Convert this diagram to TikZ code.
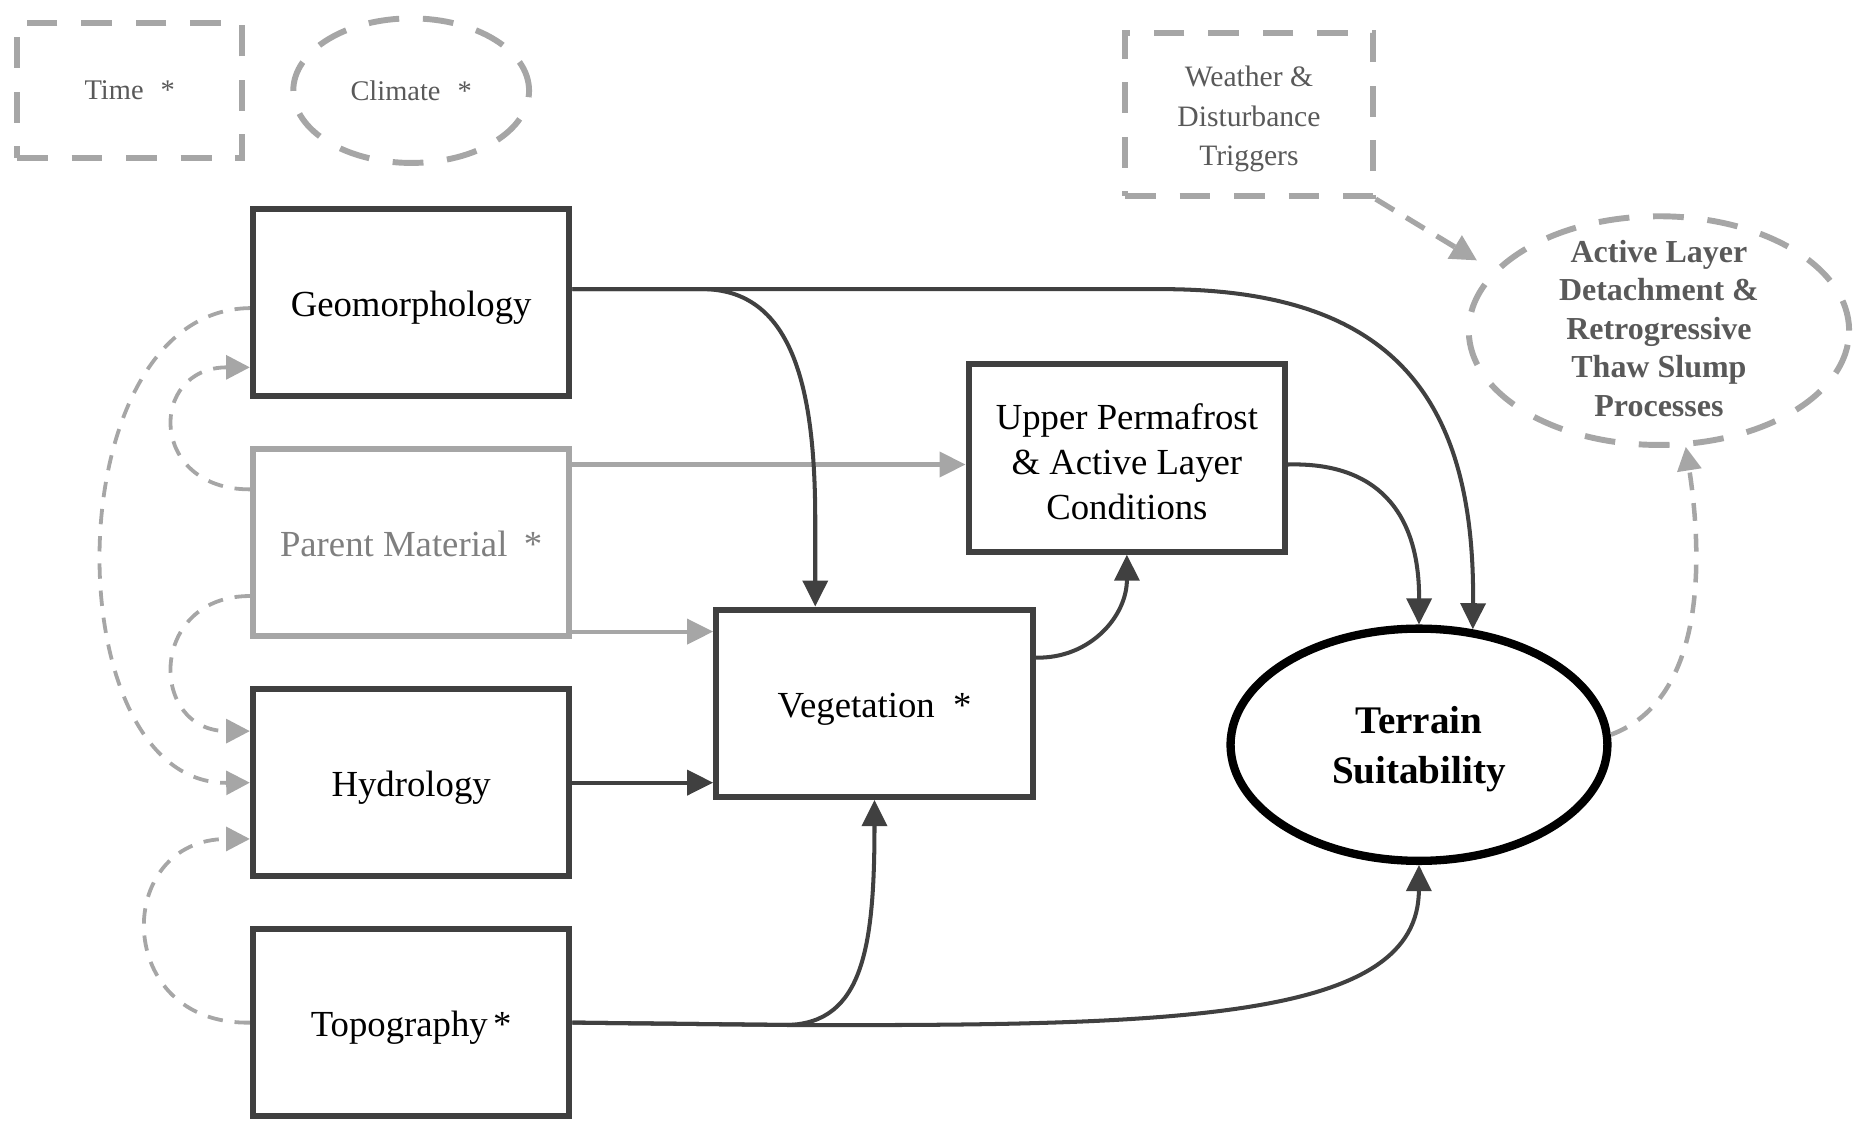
\documentclass[tikz,border=0pt]{standalone}
\usepackage{fontspec}
\setmainfont{Liberation Serif}
\usetikzlibrary{arrows.meta,shapes.geometric}
\definecolor{linedark}{HTML}{404040}
\definecolor{linelight}{HTML}{A6A6A6}
\definecolor{textgray}{HTML}{595959}
\definecolor{textlight}{HTML}{7F7F7F}

\begin{document}
\begin{tikzpicture}[x=0.5pt,y=-0.5pt,
  factor/.style={draw=linedark,line width=2.6pt,minimum width=133.5pt,minimum height=79pt,
    inner sep=0pt,align=center,font=\fontsize{15.5}{19}\selectfont,
    text height=13pt,text depth=1pt},
  factorlight/.style={factor,draw=linelight,text=textlight},
  boxtext/.style={align=center,font=\fontsize{15.5}{19}\selectfont,yshift=-1.5pt},
  extbox/.style={draw=linelight,line width=2.5pt,dash pattern=on 13pt off 10pt,
    inner sep=0pt,align=center,text=textgray},
  extell/.style={extbox,ellipse},
  link/.style={draw=linedark,line width=1.7pt,-{Triangle[length=11pt,width=10.5pt]}},
  linklight/.style={link,draw=linelight},
  feedback/.style={draw=linelight,line width=1.6pt,dash pattern=on 6.5pt off 5pt,
    -{Triangle[length=10pt,width=10pt]}},
  trigger/.style={draw=linelight,line width=2.2pt,dash pattern=on 9pt off 6pt,
    -{Triangle[length=11pt,width=11pt]}},
]
\useasboundingbox (0,0) rectangle (1568,947);

% outside influences
\node[extbox,minimum width=95pt,minimum height=57pt,font=\fontsize{12}{14}\selectfont]
  (time) at (109.5,76.5) {Time\hspace{0.6em}*};
\node[extell,minimum width=99.5pt,minimum height=61pt,font=\fontsize{12}{14}\selectfont]
  (clim) at (347,76.5) {Climate\hspace{0.6em}*};
\node[extbox,minimum width=104.5pt,minimum height=69pt,
  label={[text=textgray,align=center,font=\fontsize{12.5}{16.75}\selectfont,yshift=-2pt]center:{Weather \&\\Disturbance\\Triggers}}]
  (wea) at (1054,96.5) {};
\node[extell,minimum width=160.5pt,minimum height=96.5pt,
  label={[text=textgray,align=center,font=\bfseries\fontsize{13.5}{16.25}\selectfont,yshift=1pt]center:{Active Layer\\Detachment \&\\Retrogressive\\Thaw Slump\\Processes}}]
  (act) at (1400,279) {};

% state factors
\node[factor] (geo) at (347,255.5) {Geomorphology};
\node[factorlight] (par) at (347,458) {Parent Material\hspace{0.45em}*};
\node[factor] (hyd) at (347,660.5) {Hydrology};
\node[factor] (top) at (347,863) {Topography\hspace{0.15em}*};
\node[factor] (veg) at (738,593.5) {Vegetation\hspace{0.5em}*};
\node[factor,label={[boxtext]center:{Upper Permafrost\\\& Active Layer\\Conditions}}]
  (upf) at (951,386.5) {};
\node[draw=black,line width=3.5pt,ellipse,minimum width=159pt,minimum height=98pt,inner sep=0pt,
  label={[align=center,font=\bfseries\fontsize{16.5}{21}\selectfont,yshift=-2pt]center:{Terrain\\Suitability}}]
  (ter) at (1197.5,628.5) {};

% attachment points
\coordinate (pm1) at ([yshift=33pt]par.east);
\coordinate (pm2) at ([yshift=-37.5pt]par.east);
\coordinate (g1) at ([yshift=5.75pt]geo.east);
\coordinate (u1) at ([yshift=-2.75pt]upf.east);
\coordinate (v1) at ([yshift=19.25pt]veg.east);

% parent material links
\draw[linklight] (pm1) -- (pm1 -| upf.west);
\draw[linklight] (pm2) -- (pm2 -| veg.west);

% main links
\draw[link] (hyd.east) -- (hyd.east -| veg.west);
\draw[link] (g1) -- (595,244) .. controls (670,246) and (688,330) .. (688,440)
  -- ([xshift=-25pt]veg.north);
\draw[link] (g1) -- (980,244) .. controls (1170,244) and (1245,330) .. (ter.65);
\draw[link] (u1) .. controls (1160,390) and (1198,430) .. (ter.north);
\draw[link] (v1) .. controls (920,556) and (951,520) .. (upf.south);
\draw[link] (top.east) -- (665,865) .. controls (728,863) and (738,800) .. (veg.south);
\draw[link] (top.east) -- (665,865) .. controls (1000,866) and (1197,860) .. (ter.south);

% feedback among state factors
\draw[feedback] ([yshift=22.5pt]par.west) .. controls (125,413) and (125,310)
  .. ([yshift=-27.25pt]geo.west);
\draw[feedback] ([yshift=-2.25pt]geo.west) .. controls (45,262) and (45,662) .. (hyd.west);
\draw[feedback] ([yshift=-22.5pt]par.west) .. controls (125,503) and (125,617)
  .. ([yshift=21.75pt]hyd.west);
\draw[feedback] (top.west) .. controls (95,865) and (95,708) .. ([yshift=-23.75pt]hyd.west);

% disturbance links
\draw[feedback,line width=1.9pt,dash pattern=on 7.5pt off 5.5pt]
  (ter.3) .. controls (1440,590) and (1437,470) .. (act.-77);
\draw[trigger,shorten >=8pt] (wea.south east) -- (act.160);
\end{tikzpicture}
\end{document}
